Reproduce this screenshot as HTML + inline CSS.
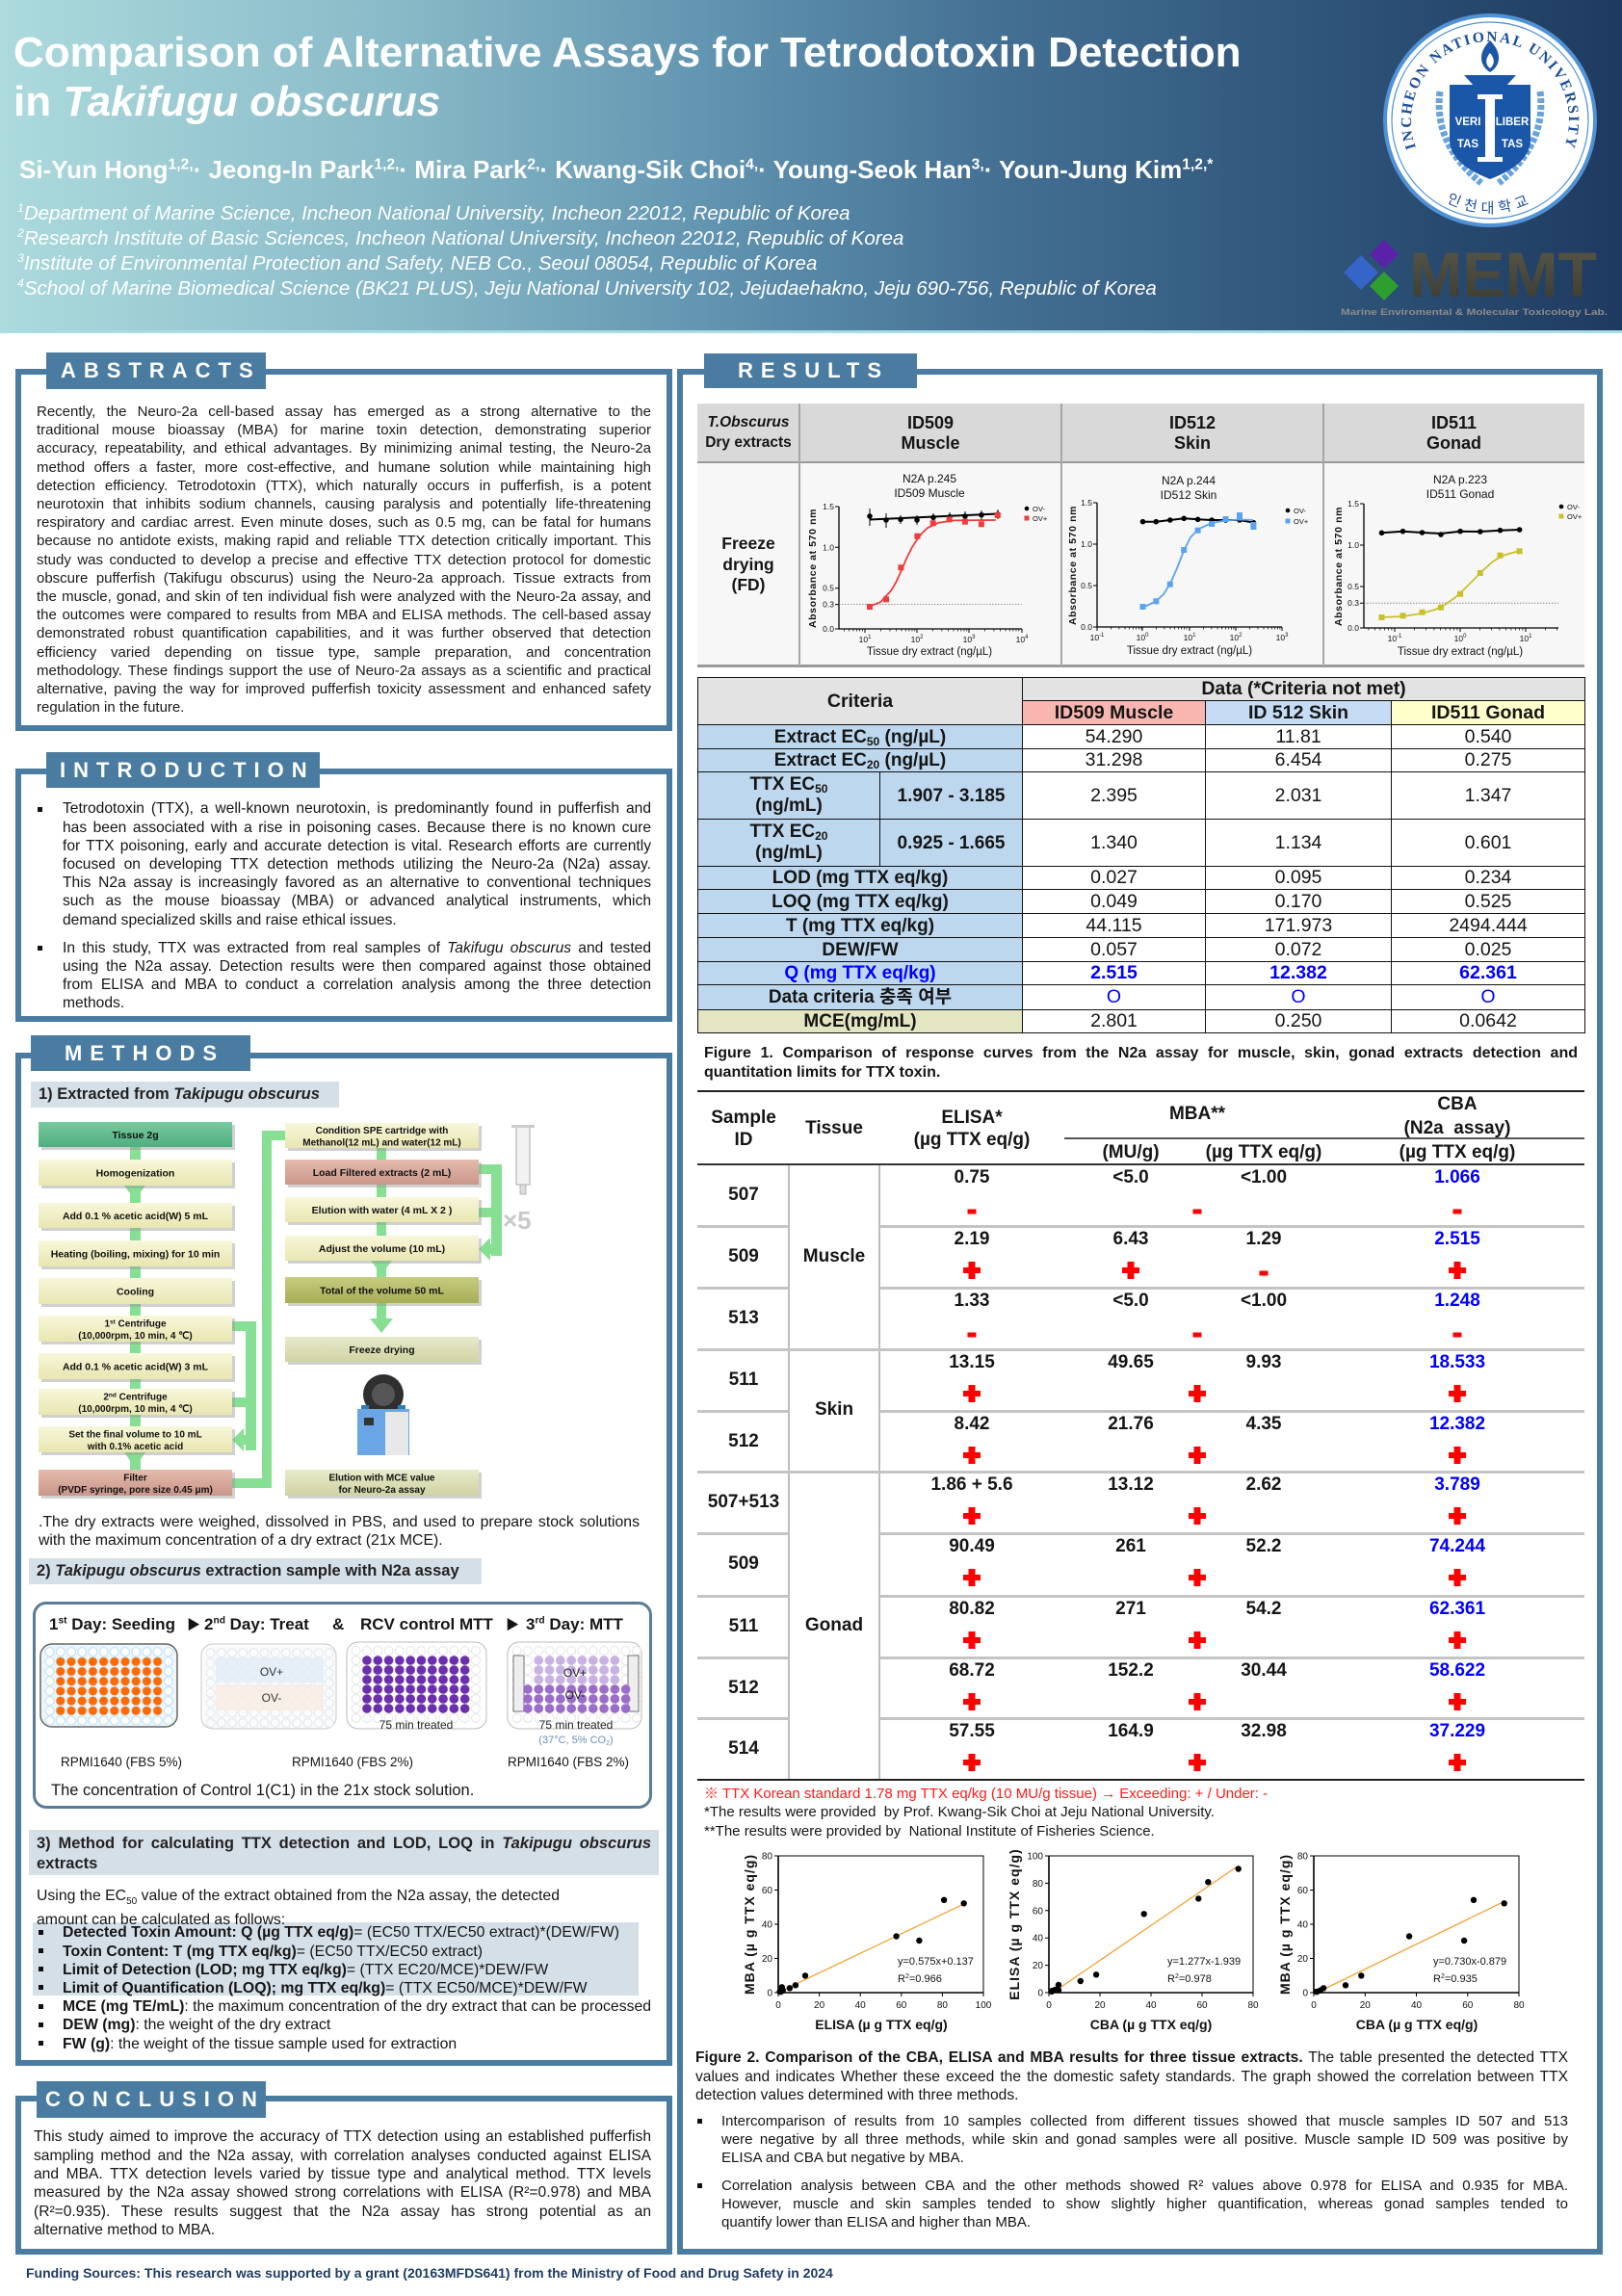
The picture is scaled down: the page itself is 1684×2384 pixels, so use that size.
<!DOCTYPE html>
<html style="width:1684px;height:2384px;overflow:hidden"><head><meta charset="utf-8">
<style>
html,body{margin:0;width:1684px;height:2384px;overflow:hidden}
body{position:relative;background:#fff;font-family:"Liberation Sans","Noto Sans CJK KR",sans-serif;color:#151515}
.a{position:absolute}
.nw{white-space:nowrap}
.box{position:absolute;border:6px solid #4a7ba0;box-sizing:border-box;background:#fff}
.tab{position:absolute;background:#4a7ba0;color:#fff;font-weight:bold;font-size:22px;letter-spacing:8px;box-sizing:border-box;display:flex;align-items:center;white-space:nowrap}
.jl{text-align:justify;text-align-last:justify}
.band{position:absolute;background:#d5dfe8}
.sq{position:absolute;width:5px;height:5px;background:#111}
.ct td{border:1.5px solid #111;padding:0;text-align:center;font-size:19.5px;line-height:21px;overflow:hidden;white-space:nowrap}
.ct td.c{background:#bdd7ee;font-weight:bold;font-size:19px}
.ct td.g{background:#e3e3e3;font-weight:bold}
.ct sub{font-size:12px;vertical-align:-3px;line-height:0}
.v{position:absolute;width:160px;margin-left:-80px;text-align:center;font-size:19px;font-weight:bold;line-height:22px;white-space:nowrap}
.bl{color:#0000ff}
.rs{position:absolute;height:3px;background:#c4c4c4}
.hl{position:absolute;background:#222}
sup{font-size:0.6em;line-height:0}
</style></head><body>

<!-- HEADER -->
<div class="a" style="left:0;top:0;width:1684px;height:344px;background:linear-gradient(90deg,#acdadd 0%,#88b9c7 25%,#5f92af 45%,#436f92 62%,#30577c 80%,#1f3a60 100%)"></div>
<div class="a" style="left:0;top:343px;width:1684px;height:3px;background:#a9dde3"></div>
<div class="a nw" style="left:14px;top:29px;font-size:44px;line-height:51px;font-weight:bold;color:#fff">Comparison of Alternative Assays for Tetrodotoxin Detection<br>in <i>Takifugu obscurus</i></div>
<div class="a nw" style="left:20px;top:161px;font-size:26px;line-height:30px;font-weight:bold;color:#fff">Si-Yun Hong<sup>1,2,</sup>· Jeong-In Park<sup>1,2,</sup>· Mira Park<sup>2,</sup>· Kwang-Sik Choi<sup>4,</sup>· Young-Seok Han<sup>3,</sup>· Youn-Jung Kim<sup>1,2,*</sup></div>
<div class="a nw" style="left:18px;top:209px;font-size:20.5px;line-height:26px;font-style:italic;color:#fff"><sup>1</sup>Department of Marine Science, Incheon National University, Incheon 22012, Republic of Korea<br><sup>2</sup>Research Institute of Basic Sciences, Incheon National University, Incheon 22012, Republic of Korea<br><sup>3</sup>Institute of Environmental Protection and Safety, NEB Co., Seoul 08054, Republic of Korea<br><sup>4</sup>School of Marine Biomedical Science (BK21 PLUS), Jeju National University 102, Jejudaehakno, Jeju 690-756, Republic of Korea</div>

<!-- LEFT COLUMN BOXES -->
<div class="box" style="left:16px;top:383px;width:682px;height:376px"></div>
<div class="tab" style="left:48px;top:366px;width:228px;height:38px;padding-left:15px">ABSTRACTS</div>
<div class="a" style="left:38px;top:418px;width:638px;font-size:15px;line-height:19.2px;color:#1a1a1a">
<div class="jl">Recently, the Neuro-2a cell-based assay has emerged as a strong alternative to the</div>
<div class="jl">traditional mouse bioassay (MBA) for marine toxin detection, demonstrating superior</div>
<div class="jl">accuracy, repeatability, and ethical advantages. By minimizing animal testing, the Neuro-2a</div>
<div class="jl">method offers a faster, more cost-effective, and humane solution while maintaining high</div>
<div class="jl">detection efficiency. Tetrodotoxin (TTX), which naturally occurs in pufferfish, is a potent</div>
<div class="jl">neurotoxin that inhibits sodium channels, causing paralysis and potentially life-threatening</div>
<div class="jl">respiratory and cardiac arrest. Even minute doses, such as 0.5 mg, can be fatal for humans</div>
<div class="jl">because no antidote exists, making rapid and reliable TTX detection critically important. This</div>
<div class="jl">study was conducted to develop a precise and effective TTX detection protocol for domestic</div>
<div class="jl">obscure pufferfish (Takifugu obscurus) using the Neuro-2a approach. Tissue extracts from</div>
<div class="jl">the muscle, gonad, and skin of ten individual fish were analyzed with the Neuro-2a assay, and</div>
<div class="jl">the outcomes were compared to results from MBA and ELISA methods. The cell-based assay</div>
<div class="jl">demonstrated robust quantification capabilities, and it was further observed that detection</div>
<div class="jl">efficiency varied depending on tissue type, sample preparation, and concentration</div>
<div class="jl">methodology. These findings support the use of Neuro-2a assays as a scientific and practical</div>
<div class="jl">alternative, paving the way for improved pufferfish toxicity assessment and enhanced safety</div>
<div>regulation in the future.</div>
</div>

<div class="box" style="left:16px;top:798px;width:682px;height:263px"></div>
<div class="tab" style="left:48px;top:781px;width:284px;height:37px;padding-left:14px">INTRODUCTION</div>
<div class="sq" style="left:39px;top:838px"></div>
<div class="sq" style="left:39px;top:982px"></div>
<div class="a" style="left:65px;top:830.4px;width:611px;font-size:15.6px;line-height:19.2px">
<div class="jl">Tetrodotoxin (TTX), a well-known neurotoxin, is predominantly found in pufferfish and</div>
<div class="jl">has been associated with a rise in poisoning cases. Because there is no known cure</div>
<div class="jl">for TTX poisoning, early and accurate detection is vital. Research efforts are currently</div>
<div class="jl">focused on developing TTX detection methods utilizing the Neuro-2a (N2a) assay.</div>
<div class="jl">This N2a assay is increasingly favored as an alternative to conventional techniques</div>
<div class="jl">such as the mouse bioassay (MBA) or advanced analytical instruments, which</div>
<div>demand specialized skills and raise ethical issues.</div>
</div>
<div class="a" style="left:65px;top:974.8px;width:611px;font-size:15.6px;line-height:19.2px">
<div class="jl">In this study, TTX was extracted from real samples of <i>Takifugu obscurus</i> and tested</div>
<div class="jl">using the N2a assay. Detection results were then compared against those obtained</div>
<div class="jl">from ELISA and MBA to conduct a correlation analysis among the three detection</div>
<div>methods.</div>
</div>

<div class="box" style="left:16px;top:1093px;width:682px;height:1052px"></div>
<div class="tab" style="left:32px;top:1075px;width:228px;height:37px;padding-left:35px">METHODS</div>
<div class="band" style="left:32px;top:1123px;width:320px;height:27px"></div>
<div class="a nw" style="left:40px;top:1125px;font-size:16.5px;line-height:23px;font-weight:bold;color:#222">1) Extracted from <i>Takipugu obscurus</i></div>
<div class="a" style="left:40px;top:1570.5px;width:624px;font-size:15.8px;line-height:19px">
<div class="jl">.The dry extracts were weighed, dissolved in PBS, and used to prepare stock solutions</div>
<div>with the maximum concentration of a dry extract (21x MCE).</div>
</div>
<div class="band" style="left:30px;top:1618px;width:470px;height:27px"></div>
<div class="a nw" style="left:38px;top:1620px;font-size:16.5px;line-height:23px;font-weight:bold;color:#222">2) <i>Takipugu obscurus</i> extraction sample with N2a assay</div>
<div class="a" style="left:34px;top:1663px;width:643px;height:215px;border:3px solid #587c98;border-radius:14px;box-sizing:border-box"></div>
<div class="a nw" style="left:51px;top:1676px;font-size:17px;line-height:22px;font-weight:bold">1<sup>st</sup> Day: Seeding</div>
<div class="a nw" style="left:194px;top:1677px;font-size:14px;line-height:20px">▶</div>
<div class="a nw" style="left:212px;top:1676px;font-size:17px;line-height:22px;font-weight:bold">2<sup>nd</sup> Day: Treat</div>
<div class="a nw" style="left:345px;top:1676px;font-size:17px;line-height:22px;font-weight:bold">&amp;</div>
<div class="a nw" style="left:374px;top:1676px;font-size:17px;line-height:22px;font-weight:bold">RCV control MTT</div>
<div class="a nw" style="left:525px;top:1677px;font-size:14px;line-height:20px">▶</div>
<div class="a nw" style="left:546px;top:1676px;font-size:17px;line-height:22px;font-weight:bold">3<sup>rd</sup> Day: MTT</div>
<div class="a nw" style="left:63px;top:1821px;font-size:13.5px;line-height:18px">RPMI1640 (FBS 5%)</div>
<div class="a nw" style="left:303px;top:1821px;font-size:13.5px;line-height:18px">RPMI1640 (FBS 2%)</div>
<div class="a nw" style="left:527px;top:1821px;font-size:13.5px;line-height:18px">RPMI1640 (FBS 2%)</div>
<div class="a nw" style="left:53px;top:1849px;font-size:16.5px;line-height:20px">The concentration of Control 1(C1) in the 21x stock solution.</div>

<div class="band" style="left:30px;top:1900px;width:654px;height:47px"></div>
<div class="a" style="left:38px;top:1903.5px;width:638px;font-size:16.5px;line-height:21px;font-weight:bold;color:#222">
<div class="jl">3) Method for calculating TTX detection and LOD, LOQ in <i>Takipugu obscurus</i></div>
<div>extracts</div>
</div>
<div class="band" style="left:34px;top:1996px;width:629px;height:76px"></div>
<div class="a nw" style="left:38px;top:1958.5px;font-size:15.8px;line-height:19px">Using the EC<sub style="font-size:10px">50</sub> value of the extract obtained from the N2a assay, the detected<br>amount can be calculated as follows:</div>
<div class="sq" style="left:40px;top:2004px"></div>
<div class="sq" style="left:40px;top:2023px"></div>
<div class="sq" style="left:40px;top:2042px"></div>
<div class="sq" style="left:40px;top:2061px"></div>
<div class="sq" style="left:40px;top:2081px"></div>
<div class="sq" style="left:40px;top:2100px"></div>
<div class="sq" style="left:40px;top:2119px"></div>
<div class="a nw" style="left:65px;top:1997.4px;font-size:15.8px;line-height:19.2px">
<div><b>Detected Toxin Amount: Q (µg TTX eq/g)</b>= (EC50 TTX/EC50 extract)*(DEW/FW)</div>
<div><b>Toxin Content: T (mg TTX eq/kg)</b>= (EC50 TTX/EC50 extract)</div>
<div><b>Limit of Detection (LOD; mg TTX eq/kg)</b>= (TTX EC20/MCE)*DEW/FW</div>
<div><b>Limit of Quantification (LOQ); mg TTX eq/kg)</b>= (TTX EC50/MCE)*DEW/FW</div>
<div><b>MCE (mg TE/mL)</b>: the maximum concentration of the dry extract that can be processed</div>
<div><b>DEW (mg)</b>: the weight of the dry extract</div>
<div><b>FW (g)</b>: the weight of the tissue sample used for extraction</div>
</div>

<div class="box" style="left:16px;top:2176px;width:682px;height:165px"></div>
<div class="tab" style="left:38px;top:2161px;width:238px;height:38px;padding-left:9px">CONCLUSION</div>
<div class="a" style="left:35px;top:2209.4px;width:641px;font-size:15.6px;line-height:19.3px">
<div class="jl">This study aimed to improve the accuracy of TTX detection using an established pufferfish</div>
<div class="jl">sampling method and the N2a assay, with correlation analyses conducted against ELISA</div>
<div class="jl">and MBA. TTX detection levels varied by tissue type and analytical method. TTX levels</div>
<div class="jl">measured by the N2a assay showed strong correlations with ELISA (R²=0.978) and MBA</div>
<div class="jl">(R²=0.935). These results suggest that the N2a assay has strong potential as an</div>
<div>alternative method to MBA.</div>
</div>
<div class="a nw" style="left:27px;top:2351px;font-size:14px;line-height:18px;font-weight:bold;color:#1f3c64">Funding Sources: This research was supported by a grant (20163MFDS641) from the Ministry of Food and Drug Safety in 2024</div>

<!-- RESULTS -->
<div class="box" style="left:703px;top:383px;width:961px;height:1958px"></div>
<div class="tab" style="left:731px;top:367px;width:221px;height:36px;padding-left:35px">RESULTS</div>

<div class="a" style="left:724px;top:419px;width:921px;height:61px;background:#d9d9d9"></div>
<div class="a" style="left:724px;top:480px;width:921px;height:212px;background:#f7f7f7"></div>
<div class="a" style="left:724px;top:479px;width:921px;height:2px;background:#9a9a9a"></div>
<div class="a" style="left:724px;top:690px;width:921px;height:3px;background:#9a9a9a"></div>
<div class="a" style="left:829px;top:419px;width:2px;height:273px;background:#a6a6a6"></div>
<div class="a" style="left:1101px;top:419px;width:2px;height:273px;background:#a6a6a6"></div>
<div class="a" style="left:1373px;top:419px;width:2px;height:273px;background:#a6a6a6"></div>
<div class="a nw" style="left:724px;top:429px;width:106px;text-align:center;font-size:15.5px;line-height:20.5px;font-weight:bold"><i>T.Obscurus</i><br>Dry extracts</div>
<div class="a nw" style="left:830px;top:429px;width:272px;text-align:center;font-size:18px;line-height:21px;font-weight:bold">ID509<br>Muscle</div>
<div class="a nw" style="left:1102px;top:429px;width:272px;text-align:center;font-size:18px;line-height:21px;font-weight:bold">ID512<br>Skin</div>
<div class="a nw" style="left:1374px;top:429px;width:271px;text-align:center;font-size:18px;line-height:21px;font-weight:bold">ID511<br>Gonad</div>
<div class="a nw" style="left:724px;top:554px;width:106px;text-align:center;font-size:17.5px;line-height:21.5px;font-weight:bold">Freeze<br>drying<br>(FD)</div>

<table class="ct" style="position:absolute;left:724px;top:703px;width:921px;border-collapse:collapse;table-layout:fixed">
<colgroup><col style="width:189px"><col style="width:148px"><col style="width:190px"><col style="width:193px"><col style="width:201px"></colgroup>
<tr style="height:24px"><td colspan="2" rowspan="2" class="g">Criteria</td><td colspan="3" class="g">Data (*Criteria not met)</td></tr>
<tr style="height:25px"><td style="background:#f9b6b1;font-weight:bold">ID509 Muscle</td><td style="background:#c6dcf4;font-weight:bold">ID 512 Skin</td><td style="background:#ffffcc;font-weight:bold">ID511 Gonad</td></tr>
<tr style="height:25px"><td colspan="2" class="c">Extract EC<sub>50</sub> (ng/µL)</td><td>54.290</td><td>11.81</td><td>0.540</td></tr>
<tr style="height:24px"><td colspan="2" class="c">Extract EC<sub>20</sub> (ng/µL)</td><td>31.298</td><td>6.454</td><td>0.275</td></tr>
<tr style="height:49px"><td class="c" style="line-height:22px">TTX EC<sub>50</sub><br>(ng/mL)</td><td class="c">1.907 - 3.185</td><td>2.395</td><td>2.031</td><td>1.347</td></tr>
<tr style="height:49px"><td class="c" style="line-height:22px">TTX EC<sub>20</sub><br>(ng/mL)</td><td class="c">0.925 - 1.665</td><td>1.340</td><td>1.134</td><td>0.601</td></tr>
<tr style="height:24px"><td colspan="2" class="c">LOD (mg TTX eq/kg)</td><td>0.027</td><td>0.095</td><td>0.234</td></tr>
<tr style="height:25px"><td colspan="2" class="c">LOQ (mg TTX eq/kg)</td><td>0.049</td><td>0.170</td><td>0.525</td></tr>
<tr style="height:25px"><td colspan="2" class="c">T (mg TTX eq/kg)</td><td>44.115</td><td>171.973</td><td>2494.444</td></tr>
<tr style="height:25px"><td colspan="2" class="c">DEW/FW</td><td>0.057</td><td>0.072</td><td>0.025</td></tr>
<tr style="height:24px"><td colspan="2" class="c" style="color:#0000ff">Q (mg TTX eq/kg)</td><td class="bl" style="font-weight:bold">2.515</td><td class="bl" style="font-weight:bold">12.382</td><td class="bl" style="font-weight:bold">62.361</td></tr>
<tr style="height:26px"><td colspan="2" class="c">Data criteria 충족 여부</td><td class="bl">O</td><td class="bl">O</td><td class="bl">O</td></tr>
<tr style="height:24px"><td colspan="2" class="c" style="background:#e3e6c0">MCE(mg/mL)</td><td>2.801</td><td>0.250</td><td>0.0642</td></tr>
</table>

<div class="a" style="left:731px;top:1084px;width:907px;font-size:16px;line-height:19.5px;font-weight:bold">
<div class="jl">Figure 1. Comparison of response curves from the N2a assay for muscle, skin, gonad extracts detection and</div>
<div>quantitation limits for TTX toxin.</div>
</div>

<!-- TABLE 2 -->
<div class="hl" style="left:724px;top:1132px;width:921px;height:2px"></div>
<div class="hl" style="left:1105px;top:1181px;width:540px;height:1.5px;background:#555"></div>
<div class="hl" style="left:724px;top:1208px;width:921px;height:2px;background:#333"></div>
<div class="hl" style="left:724px;top:1847px;width:921px;height:2px"></div>
<div class="a" style="left:818px;top:1210px;width:2px;height:637px;background:#bdbdbd"></div>
<div class="a" style="left:912px;top:1210px;width:2px;height:637px;background:#bdbdbd"></div>
<div class="rs" style="left:724px;top:1272px;width:95px"></div><div class="rs" style="left:913px;top:1272px;width:732px"></div>
<div class="rs" style="left:724px;top:1336px;width:95px"></div><div class="rs" style="left:913px;top:1336px;width:732px"></div>
<div class="rs" style="left:724px;top:1400px;width:921px"></div>
<div class="rs" style="left:724px;top:1464px;width:95px"></div><div class="rs" style="left:913px;top:1464px;width:732px"></div>
<div class="rs" style="left:724px;top:1527px;width:921px"></div>
<div class="rs" style="left:724px;top:1591px;width:95px"></div><div class="rs" style="left:913px;top:1591px;width:732px"></div>
<div class="rs" style="left:724px;top:1656px;width:95px"></div><div class="rs" style="left:913px;top:1656px;width:732px"></div>
<div class="rs" style="left:724px;top:1720px;width:95px"></div><div class="rs" style="left:913px;top:1720px;width:732px"></div>
<div class="rs" style="left:724px;top:1783px;width:95px"></div><div class="rs" style="left:913px;top:1783px;width:732px"></div>

<div class="v" style="left:772px;top:1149px;line-height:23px">Sample<br>ID</div>
<div class="v" style="left:866px;top:1161px">Tissue</div>
<div class="v" style="left:1009px;top:1149px;line-height:23px">ELISA*<br>(µg TTX eq/g)</div>
<div class="v" style="left:1243px;top:1146px">MBA**</div>
<div class="v" style="left:1513px;top:1134px;line-height:25px">CBA<br>(N2a&nbsp; assay)</div>
<div class="v" style="left:1174px;top:1186px">(MU/g)</div>
<div class="v" style="left:1312px;top:1186px">(µg TTX eq/g)</div>
<div class="v" style="left:1513px;top:1186px">(µg TTX eq/g)</div>

<div class="v" style="left:866px;top:1294px">Muscle</div>
<div class="v" style="left:866px;top:1453px">Skin</div>
<div class="v" style="left:866px;top:1677px">Gonad</div>

<div class="v" style="left:772px;top:1230px">507</div>
<div class="v" style="left:772px;top:1294px">509</div>
<div class="v" style="left:772px;top:1358px">513</div>
<div class="v" style="left:772px;top:1422px">511</div>
<div class="v" style="left:772px;top:1486px">512</div>
<div class="v" style="left:772px;top:1549px">507+513</div>
<div class="v" style="left:772px;top:1613px">509</div>
<div class="v" style="left:772px;top:1678px">511</div>
<div class="v" style="left:772px;top:1742px">512</div>
<div class="v" style="left:772px;top:1805px">514</div>

<div class="v" style="left:1009px;top:1212px">0.75</div><div class="v" style="left:1174px;top:1212px">&lt;5.0</div><div class="v" style="left:1312px;top:1212px">&lt;1.00</div><div class="v bl" style="left:1513px;top:1212px">1.066</div>
<div class="v" style="left:1009px;top:1276px">2.19</div><div class="v" style="left:1174px;top:1276px">6.43</div><div class="v" style="left:1312px;top:1276px">1.29</div><div class="v bl" style="left:1513px;top:1276px">2.515</div>
<div class="v" style="left:1009px;top:1340px">1.33</div><div class="v" style="left:1174px;top:1340px">&lt;5.0</div><div class="v" style="left:1312px;top:1340px">&lt;1.00</div><div class="v bl" style="left:1513px;top:1340px">1.248</div>
<div class="v" style="left:1009px;top:1404px">13.15</div><div class="v" style="left:1174px;top:1404px">49.65</div><div class="v" style="left:1312px;top:1404px">9.93</div><div class="v bl" style="left:1513px;top:1404px">18.533</div>
<div class="v" style="left:1009px;top:1468px">8.42</div><div class="v" style="left:1174px;top:1468px">21.76</div><div class="v" style="left:1312px;top:1468px">4.35</div><div class="v bl" style="left:1513px;top:1468px">12.382</div>
<div class="v" style="left:1009px;top:1531px">1.86 + 5.6</div><div class="v" style="left:1174px;top:1531px">13.12</div><div class="v" style="left:1312px;top:1531px">2.62</div><div class="v bl" style="left:1513px;top:1531px">3.789</div>
<div class="v" style="left:1009px;top:1595px">90.49</div><div class="v" style="left:1174px;top:1595px">261</div><div class="v" style="left:1312px;top:1595px">52.2</div><div class="v bl" style="left:1513px;top:1595px">74.244</div>
<div class="v" style="left:1009px;top:1660px">80.82</div><div class="v" style="left:1174px;top:1660px">271</div><div class="v" style="left:1312px;top:1660px">54.2</div><div class="v bl" style="left:1513px;top:1660px">62.361</div>
<div class="v" style="left:1009px;top:1724px">68.72</div><div class="v" style="left:1174px;top:1724px">152.2</div><div class="v" style="left:1312px;top:1724px">30.44</div><div class="v bl" style="left:1513px;top:1724px">58.622</div>
<div class="v" style="left:1009px;top:1787px">57.55</div><div class="v" style="left:1174px;top:1787px">164.9</div><div class="v" style="left:1312px;top:1787px">32.98</div><div class="v bl" style="left:1513px;top:1787px">37.229</div>

<div class="a nw" style="left:731px;top:1853px;font-size:15px;line-height:20px;color:#ff1a1a">※ TTX Korean standard 1.78 mg TTX eq/kg (10 MU/g tissue) → Exceeding: + / Under: -</div>
<div class="a nw" style="left:731px;top:1872px;font-size:15px;line-height:20px">*The results were provided&nbsp; by Prof. Kwang-Sik Choi at Jeju National University.</div>
<div class="a nw" style="left:731px;top:1892px;font-size:15px;line-height:20px">**The results were provided by&nbsp; National Institute of Fisheries Science.</div>

<div class="a" style="left:722px;top:2127px;width:906px;font-size:15.6px;line-height:19.5px">
<div class="jl"><b>Figure 2. Comparison of the CBA, ELISA and MBA results for three tissue extracts.</b> The table presented the detected TTX</div>
<div class="jl">values and indicates Whether these exceed the the domestic safety standards. The graph showed the correlation between TTX</div>
<div>detection values determined with three methods.</div>
</div>
<div class="sq" style="left:724px;top:2200px"></div>
<div class="sq" style="left:724px;top:2267px"></div>
<div class="a" style="left:749px;top:2192.5px;width:879px;font-size:15px;line-height:19px">
<div class="jl">Intercomparison of results from 10 samples collected from different tissues showed that muscle samples ID 507 and 513</div>
<div class="jl">were negative by all three methods, while skin and gonad samples were all positive. Muscle sample ID 509 was positive by</div>
<div>ELISA and CBA but negative by MBA.</div>
</div>
<div class="a" style="left:749px;top:2259.5px;width:879px;font-size:15px;line-height:19px">
<div class="jl">Correlation analysis between CBA and the other methods showed R² values above 0.978 for ELISA and 0.935 for MBA.</div>
<div class="jl">However, muscle and skin samples tended to show slightly higher quantification, whereas gonad samples tended to</div>
<div>quantify lower than ELISA and higher than MBA.</div>
</div>

<!-- GRAPHICS OVERLAY -->
<svg class="a" style="left:0;top:0" width="1684" height="2384" viewBox="0 0 1684 2384" font-family="Liberation Sans, sans-serif">
<defs>
<linearGradient id="gY" x1="0" y1="0" x2="0" y2="1"><stop offset="0" stop-color="#f8f7da"/><stop offset="1" stop-color="#e8e6b0"/></linearGradient>
<linearGradient id="gG" x1="0" y1="0" x2="0" y2="1"><stop offset="0" stop-color="#78ca9f"/><stop offset="1" stop-color="#4fae7f"/></linearGradient>
<linearGradient id="gS" x1="0" y1="0" x2="0" y2="1"><stop offset="0" stop-color="#e4bbad"/><stop offset="1" stop-color="#c9968a"/></linearGradient>
<linearGradient id="gO" x1="0" y1="0" x2="0" y2="1"><stop offset="0" stop-color="#c6cc80"/><stop offset="1" stop-color="#a6ad55"/></linearGradient>
<linearGradient id="gK" x1="0" y1="0" x2="0" y2="1"><stop offset="0" stop-color="#e8eacb"/><stop offset="1" stop-color="#d0d3a2"/></linearGradient>
<linearGradient id="gM" x1="0" y1="0" x2="0" y2="1"><stop offset="0" stop-color="#5a5848"/><stop offset="1" stop-color="#3a3a30"/></linearGradient>
<pattern id="w1" x="46" y="1710" width="11.2" height="10.2" patternUnits="userSpaceOnUse"><circle cx="5.6" cy="5.1" r="4.5" fill="#fff" stroke="#b9def2" stroke-width="1"/></pattern>
<pattern id="o1" x="46" y="1710" width="11.2" height="10.2" patternUnits="userSpaceOnUse"><circle cx="5.6" cy="5.1" r="4.4" fill="#ff6a00"/></pattern>
<pattern id="w2" x="213" y="1711" width="11.2" height="10.4" patternUnits="userSpaceOnUse"><circle cx="5.6" cy="5.2" r="4.5" fill="none" stroke="#e2e5ea" stroke-width="1"/></pattern>
<pattern id="w3" x="364" y="1709" width="11.3" height="10" patternUnits="userSpaceOnUse"><circle cx="5.65" cy="5" r="4.5" fill="none" stroke="#e4e4e4" stroke-width="1"/></pattern>
<pattern id="p3" x="364" y="1709" width="11.3" height="10" patternUnits="userSpaceOnUse"><circle cx="5.65" cy="5" r="4.8" fill="#6b2fae"/></pattern>
<pattern id="w4" x="531" y="1709" width="11.3" height="10" patternUnits="userSpaceOnUse"><circle cx="5.65" cy="5" r="4.5" fill="none" stroke="#e4e4e4" stroke-width="1"/></pattern>
<pattern id="p4a" x="531" y="1709" width="11.3" height="10" patternUnits="userSpaceOnUse"><circle cx="5.65" cy="5" r="4.8" fill="#c8b2e3"/></pattern>
<pattern id="p4b" x="531" y="1709" width="11.3" height="10" patternUnits="userSpaceOnUse"><circle cx="5.65" cy="5" r="4.8" fill="#9b6cc9"/></pattern>
<g id="pl" fill="#ff0000"><rect x="-9" y="-3" width="18" height="6"/><rect x="-3.5" y="-9" width="7" height="18"/></g>
<rect id="mn" x="-4.5" y="-2.5" width="9" height="5" fill="#ff0000"/>
</defs>

<!-- University logo -->
<circle cx="1547" cy="125" r="109" fill="#fff" stroke="#4f92d6" stroke-width="4"/>
<circle cx="1547" cy="125" r="102" fill="none" stroke="#4f92d6" stroke-width="1.2"/>
<path id="ringTop" d="M1469.9,153 A82,82 0 1 1 1624.1,153" fill="none"/>
<text font-family="Liberation Serif, serif" font-weight="bold" font-size="15.5" fill="#1a4f9c" letter-spacing="2"><textPath href="#ringTop" startOffset="50%" text-anchor="middle">INCHEON NATIONAL UNIVERSITY</textPath></text>
<path id="ringBot" d="M1485.3,198.5 A96,96 0 0 0 1608.7,198.5" fill="none"/>
<text font-family="Noto Sans CJK KR, sans-serif" font-size="15" fill="#1a4f9c" letter-spacing="5"><textPath href="#ringBot" startOffset="50%" text-anchor="middle">인천대학교</textPath></text>
<path d="M1495,95 Q1488,150 1538,190" stroke="#6aa3dc" stroke-width="7" fill="none" stroke-dasharray="5 2"/>
<path d="M1599,95 Q1606,150 1556,190" stroke="#6aa3dc" stroke-width="7" fill="none" stroke-dasharray="5 2"/>
<path d="M1505,88 H1589 V145 Q1589,170 1547,186 Q1505,170 1505,145 Z" fill="#1b57a8"/>
<path d="M1520,78 H1574 L1563,90 H1531 Z" fill="#1b57a8"/>
<path d="M1547,42 C1533,56 1537,69 1547,75 C1557,69 1561,56 1547,42 Z" fill="#1b57a8"/>
<path d="M1547,55 C1541,62 1543,68 1547,71 C1551,68 1553,62 1547,55 Z" fill="#fff"/>
<rect x="1542" y="100" width="10" height="66" fill="#fff"/><rect x="1534" y="98" width="26" height="5" fill="#fff"/><rect x="1534" y="163" width="26" height="5" fill="#fff"/>
<g fill="#fff" font-size="11.5" font-weight="bold" text-anchor="middle"><text x="1524" y="130">VERI</text><text x="1570" y="130">LIBER</text><text x="1524" y="153">TAS</text><text x="1570" y="153">TAS</text></g>

<!-- MEMT logo -->
<polygon points="1413,265 1431,283 1413,301 1395,283" fill="#3565c8"/>
<polygon points="1437,249 1452,264 1437,279 1422,264" fill="#5a22a8"/>
<polygon points="1437,282 1452,297 1437,312 1422,297" fill="#2e9e2e"/>
<text x="1463" y="308" font-size="66" font-weight="bold" fill="url(#gM)" textLength="195" lengthAdjust="spacingAndGlyphs">MEMT</text>
<text x="1392" y="327" font-size="9.5" font-weight="bold" fill="#8c8c8c" textLength="277" lengthAdjust="spacingAndGlyphs">Marine Enviromental &amp; Molecular Toxicology Lab.</text>

<!-- Flowchart connectors -->
<g fill="#86df92">
<rect x="135" y="1191" width="11" height="335"/>
<polygon points="129,1231 151,1231 140,1246"/>
<polygon points="129,1508 151,1508 140,1524"/>
<rect x="241" y="1372" width="25" height="10"/>
<rect x="255" y="1372" width="11" height="134"/>
<rect x="241" y="1451" width="25" height="10"/>
<rect x="250" y="1490" width="16" height="10"/>
<polygon points="241,1495 253,1483 253,1507"/>
<rect x="241" y="1535" width="41" height="10"/>
<rect x="272" y="1174" width="10" height="371"/>
<rect x="272" y="1174" width="24" height="10"/>
<rect x="391" y="1192" width="10" height="134"/>
<polygon points="385,1309 407,1309 396,1323"/>
<rect x="391" y="1353" width="10" height="18"/>
<polygon points="384,1369 408,1369 396,1384"/>
<rect x="497" y="1209" width="24" height="10"/>
<rect x="510" y="1209" width="11" height="95"/>
<rect x="497" y="1254" width="24" height="10"/>
<rect x="506" y="1292" width="15" height="10"/>
<polygon points="497,1297 509,1285 509,1309"/>
</g>

<!-- Flowchart boxes -->
<g font-size="10.5" font-weight="bold" fill="#111" text-anchor="middle">
<g fill="#999" opacity="0.45">
<rect x="43" y="1168" width="201" height="26"/><rect x="43" y="1207" width="201" height="27"/><rect x="43" y="1252" width="201" height="26"/><rect x="43" y="1291" width="201" height="27"/><rect x="43" y="1330" width="201" height="27"/><rect x="43" y="1369" width="201" height="27"/><rect x="43" y="1408" width="201" height="27"/><rect x="43" y="1445" width="201" height="27"/><rect x="43" y="1484" width="201" height="27"/><rect x="43" y="1529" width="201" height="27"/>
<rect x="299" y="1169" width="201" height="26"/><rect x="299" y="1207" width="201" height="26"/><rect x="299" y="1246" width="201" height="26"/><rect x="299" y="1286" width="201" height="26"/><rect x="299" y="1329" width="201" height="27"/><rect x="299" y="1391" width="201" height="26"/><rect x="299" y="1529" width="201" height="27"/>
</g>
<rect x="40" y="1165" width="201" height="26" fill="url(#gG)"/>
<rect x="40" y="1204" width="201" height="27" fill="url(#gY)"/>
<rect x="40" y="1249" width="201" height="26" fill="url(#gY)"/>
<rect x="40" y="1288" width="201" height="27" fill="url(#gY)"/>
<rect x="40" y="1327" width="201" height="27" fill="url(#gY)"/>
<rect x="40" y="1366" width="201" height="27" fill="url(#gY)"/>
<rect x="40" y="1405" width="201" height="27" fill="url(#gY)"/>
<rect x="40" y="1442" width="201" height="27" fill="url(#gY)"/>
<rect x="40" y="1481" width="201" height="27" fill="url(#gY)"/>
<rect x="40" y="1526" width="201" height="27" fill="url(#gS)"/>
<rect x="296" y="1166" width="201" height="26" fill="url(#gY)"/>
<rect x="296" y="1204" width="201" height="26" fill="url(#gS)"/>
<rect x="296" y="1243" width="201" height="26" fill="url(#gY)"/>
<rect x="296" y="1283" width="201" height="26" fill="url(#gY)"/>
<rect x="296" y="1326" width="201" height="27" fill="url(#gO)"/>
<rect x="296" y="1388" width="201" height="26" fill="url(#gK)"/>
<rect x="296" y="1526" width="201" height="27" fill="url(#gK)"/>
<text x="140.5" y="1182">Tissue 2g</text>
<text x="140.5" y="1221.5">Homogenization</text>
<text x="140.5" y="1266">Add 0.1 % acetic acid(W) 5 mL</text>
<text x="140.5" y="1305.5">Heating (boiling, mixing) for 10 min</text>
<text x="140.5" y="1344.5">Cooling</text>
<text x="140.5" y="1377.5" font-size="10">1<tspan font-size="6.5" dy="-3">st</tspan><tspan dy="3"> Centrifuge</tspan></text>
<text x="140.5" y="1390" font-size="10">(10,000rpm, 10 min, 4 ℃)</text>
<text x="140.5" y="1422.5">Add 0.1 % acetic acid(W) 3 mL</text>
<text x="140.5" y="1453.5" font-size="10">2<tspan font-size="6.5" dy="-3">nd</tspan><tspan dy="3"> Centrifuge</tspan></text>
<text x="140.5" y="1466" font-size="10">(10,000rpm, 10 min, 4 ℃)</text>
<text x="140.5" y="1492.5" font-size="10">Set the final volume to 10 mL</text>
<text x="140.5" y="1505" font-size="10">with 0.1% acetic acid</text>
<text x="140.5" y="1537.5" font-size="10">Filter</text>
<text x="140.5" y="1550" font-size="10">(PVDF syringe, pore size 0.45 μm)</text>
<text x="396.5" y="1177" font-size="10">Condition SPE cartridge with</text>
<text x="396.5" y="1189.5" font-size="10">Methanol(12 mL) and water(12 mL)</text>
<text x="396.5" y="1221">Load Filtered extracts (2 mL)</text>
<text x="396.5" y="1260">Elution with water (4 mL X 2 )</text>
<text x="396.5" y="1300">Adjust the volume (10 mL)</text>
<text x="396.5" y="1343.5">Total of the volume 50 mL</text>
<text x="396.5" y="1405">Freeze drying</text>
<text x="396.5" y="1537.5" font-size="10">Elution with MCE value</text>
<text x="396.5" y="1550" font-size="10">for Neuro-2a assay</text>
</g>
<!-- syringe & x5 -->
<rect x="536" y="1170" width="14" height="60" fill="#f2f2f2" stroke="#aaa" stroke-width="1"/>
<rect x="531" y="1168" width="24" height="3" fill="#ccc"/>
<rect x="540" y="1230" width="6" height="10" fill="#ddd" stroke="#aaa" stroke-width="0.8"/>
<text x="522" y="1276" font-size="26" font-weight="bold" fill="#c9c9c9">×5</text>
<!-- freeze dryer -->
<circle cx="398" cy="1448" r="21" fill="#2f2f2f"/>
<circle cx="398" cy="1448" r="12" fill="#555"/>
<rect x="375" y="1459" width="8" height="6" fill="#2a7fb8"/><rect x="413" y="1459" width="8" height="6" fill="#2a7fb8"/>
<rect x="371" y="1463" width="54" height="48" fill="#6aa6e6"/>
<rect x="400" y="1466" width="24" height="45" fill="#e8e8e8"/>
<rect x="378" y="1472" width="10" height="8" fill="#333"/>

<!-- Plates -->
<rect x="42" y="1707" width="142" height="86" rx="12" fill="#eef6fb" stroke="#666" stroke-width="1.5"/>
<rect x="45" y="1710" width="136" height="81" fill="url(#w1)"/>
<rect x="57.2" y="1720.2" width="112" height="61.2" fill="url(#o1)"/>
<rect x="209" y="1707" width="140" height="88" rx="12" fill="#fafbfc" stroke="#c8c8c8" stroke-width="1"/>
<rect x="213" y="1711" width="134" height="83" fill="url(#w2)"/>
<rect x="224" y="1721" width="112" height="26" fill="#e3ecf8" opacity="0.85"/>
<rect x="224" y="1749" width="112" height="27" fill="#f8ece4" opacity="0.85"/>
<text x="282" y="1740" font-size="12" text-anchor="middle" fill="#333">OV+</text>
<text x="282" y="1767" font-size="12" text-anchor="middle" fill="#333">OV-</text>
<rect x="360" y="1705" width="145" height="90" rx="12" fill="#fff" stroke="#bbb" stroke-width="1"/>
<rect x="364" y="1709" width="136" height="80" fill="url(#w3)"/>
<rect x="375.3" y="1719" width="113" height="60" fill="url(#p3)"/>
<text x="432" y="1795" font-size="12" text-anchor="middle" fill="#222">75 min treated</text>
<rect x="527" y="1705" width="139" height="90" rx="12" fill="#fff" stroke="#bbb" stroke-width="1"/>
<rect x="531" y="1709" width="135" height="80" fill="url(#w4)"/>
<rect x="533" y="1719" width="11" height="58" fill="#eee" stroke="#555" stroke-width="0.8"/>
<rect x="652" y="1719" width="11" height="58" fill="#eee" stroke="#555" stroke-width="0.8"/>
<rect x="553.6" y="1719" width="90.4" height="30" fill="url(#p4a)"/>
<rect x="542.3" y="1749" width="113" height="30" fill="url(#p4b)"/>
<text x="597" y="1741" font-size="12" text-anchor="middle" fill="#222">OV+</text>
<text x="597" y="1764" font-size="12" text-anchor="middle" fill="#222">OV-</text>
<text x="598" y="1795" font-size="12" text-anchor="middle" fill="#222">75 min treated</text>
<text x="598" y="1810" font-size="11" text-anchor="middle" fill="#6a90b8">(37°C, 5% CO<tspan font-size="7" dy="2">2</tspan><tspan dy="-2">)</tspan></text>

<!-- Chart 1 -->
<g font-size="8.5" fill="#111">
<text x="965" y="501" font-size="12" text-anchor="middle">N2A p.245</text>
<text x="965" y="516" font-size="12" text-anchor="middle">ID509 Muscle</text>
<path d="M871,526V653H1061" fill="none" stroke="#000" stroke-width="1.3"/>
<path d="M867,526H871M867,568.3H871M867,610.7H871M867,627.6H871M867,653H871M898,653v4M952,653v4M1006,653v4M1061,653v4" stroke="#000" stroke-width="1"/>
<path d="M876.4,653v2.5M881.7,653v2.5M886,653v2.5M889.6,653v2.5M892.7,653v2.5M895.5,653v2.5M914.3,653v2.5M923.9,653v2.5M930.7,653v2.5M936,653v2.5M940.3,653v2.5M943.9,653v2.5M947,653v2.5M949.8,653v2.5M968.3,653v2.5M977.9,653v2.5M984.7,653v2.5M990,653v2.5M994.3,653v2.5M997.9,653v2.5M1001,653v2.5M1003.8,653v2.5M1022.3,653v2.5M1031.9,653v2.5M1038.7,653v2.5M1044,653v2.5M1048.3,653v2.5M1051.9,653v2.5M1055,653v2.5M1057.8,653v2.5" stroke="#000" stroke-width="0.7"/>
<g text-anchor="end"><text x="866" y="529">1.5</text><text x="866" y="571.3">1.0</text><text x="866" y="613.7">0.5</text><text x="866" y="630.6">0.3</text><text x="866" y="656">0.0</text></g>
<g text-anchor="middle"><text x="898" y="667">10<tspan font-size="6" dy="-4">1</tspan></text><text x="952" y="667">10<tspan font-size="6" dy="-4">2</tspan></text><text x="1006" y="667">10<tspan font-size="6" dy="-4">3</tspan></text><text x="1061" y="667">10<tspan font-size="6" dy="-4">4</tspan></text></g>
<text x="965" y="680" font-size="11.5" text-anchor="middle">Tissue dry extract (ng/µL)</text>
<text transform="translate(847,590) rotate(-90)" font-size="10.5" font-weight="bold" text-anchor="middle" letter-spacing="0.6">Absorbance at 570 nm</text>
<path d="M871,627.6H1061" stroke="#777" stroke-width="0.8" stroke-dasharray="1.5 1.5"/>
<path d="M903,539.5L1036,533.5" stroke="#000" stroke-width="2"/>
<path d="M903,528V546M920,533V548M935,535V544M952,535V545M969,533V542M986,532V541M1002,531V541M1019,530V540M1036,529V539" stroke="#000" stroke-width="1"/>
<g fill="#000"><circle cx="903" cy="536" r="2.8"/><circle cx="920" cy="540" r="2.8"/><circle cx="935" cy="539.3" r="2.8"/><circle cx="952" cy="540" r="2.8"/><circle cx="969" cy="537.3" r="2.8"/><circle cx="986" cy="536.7" r="2.8"/><circle cx="1002" cy="536" r="2.8"/><circle cx="1019" cy="534.7" r="2.8"/><circle cx="1036" cy="534" r="2.8"/></g>
<polyline points="903.4,629.3 914.3,625.1 925.2,613.2 930.6,603.9 936,592 941.4,579.3 946.9,568.3 952.3,559.9 957.7,553.1 963.2,548 974,542.9 990.3,540.4 1033.8,540" fill="none" stroke="#f03c3c" stroke-width="1.8"/>
<g fill="#f03c3c"><rect x="900" y="627" width="6" height="6"/><rect x="917" y="619.3" width="6" height="6"/><rect x="932.4" y="586.3" width="6" height="6"/><rect x="949.4" y="553.7" width="6" height="6"/><rect x="965.7" y="540.3" width="6" height="6"/><rect x="982.6" y="536.3" width="6" height="6"/><rect x="998.9" y="538.7" width="6" height="6"/><rect x="1015.9" y="541.3" width="6" height="6"/><rect x="1032.8" y="532" width="6" height="6"/></g>
<circle cx="1066" cy="528" r="2.3" fill="#000"/><rect x="1063.5" y="535.5" width="5" height="5" fill="#f03c3c"/>
<text x="1072" y="531" font-size="7.5">OV-</text><text x="1072" y="541" font-size="7.5">OV+</text>
</g>

<!-- Chart 2 -->
<g font-size="8.5" fill="#111">
<text x="1234" y="503" font-size="12" text-anchor="middle">N2A p.244</text>
<text x="1234" y="518" font-size="12" text-anchor="middle">ID512 Skin</text>
<path d="M1139,522V651H1331" fill="none" stroke="#000" stroke-width="1.3"/>
<path d="M1135,522H1139M1135,565H1139M1135,608H1139M1135,651H1139M1139,651v4M1186,651v4M1235,651v4M1283,651v4M1331,651v4" stroke="#000" stroke-width="1"/>
<path d="M1153.5,651v2.5M1161.9,651v2.5M1168,651v2.5M1172.6,651v2.5M1176.4,651v2.5M1179.7,651v2.5M1182.4,651v2.5M1184.9,651v2.5M1200.5,651v2.5M1208.9,651v2.5M1215,651v2.5M1219.6,651v2.5M1223.4,651v2.5M1226.7,651v2.5M1229.4,651v2.5M1231.9,651v2.5M1249.5,651v2.5M1257.9,651v2.5M1264,651v2.5M1268.6,651v2.5M1272.4,651v2.5M1275.7,651v2.5M1278.4,651v2.5M1280.9,651v2.5M1297.5,651v2.5M1305.9,651v2.5M1312,651v2.5M1316.6,651v2.5M1320.4,651v2.5M1323.7,651v2.5M1326.4,651v2.5M1328.9,651v2.5" stroke="#000" stroke-width="0.7"/>
<g text-anchor="end"><text x="1134" y="525">1.5</text><text x="1134" y="568">1.0</text><text x="1134" y="611">0.5</text><text x="1134" y="654">0.0</text></g>
<g text-anchor="middle"><text x="1139" y="665">10<tspan font-size="6" dy="-4">-1</tspan></text><text x="1186" y="665">10<tspan font-size="6" dy="-4">0</tspan></text><text x="1235" y="665">10<tspan font-size="6" dy="-4">1</tspan></text><text x="1283" y="665">10<tspan font-size="6" dy="-4">2</tspan></text><text x="1331" y="665">10<tspan font-size="6" dy="-4">3</tspan></text></g>
<text x="1235" y="679" font-size="11.5" text-anchor="middle">Tissue dry extract (ng/µL)</text>
<text transform="translate(1117,587) rotate(-90)" font-size="10.5" font-weight="bold" text-anchor="middle" letter-spacing="0.6">Absorbance at 570 nm</text>
<polyline points="1186.5,541.7 1200.3,541.7 1214.8,540 1229.2,538.3 1243.6,539.3 1258.1,540 1272.5,540 1287,540 1301.4,542.7" fill="none" stroke="#000" stroke-width="2"/>
<g fill="#000"><circle cx="1186.5" cy="541.7" r="2.8"/><circle cx="1200.3" cy="541.7" r="2.8"/><circle cx="1214.8" cy="540" r="2.8"/><circle cx="1229.2" cy="538.3" r="2.8"/><circle cx="1243.6" cy="539.3" r="2.8"/><circle cx="1258.1" cy="540" r="2.8"/><circle cx="1272.5" cy="540" r="2.8"/><circle cx="1287" cy="540" r="2.8"/><circle cx="1301.4" cy="542.7" r="2.8"/></g>
<polyline points="1186,631 1200,624.5 1208,617 1215,606 1222,590 1229,572 1236,558 1244,549.5 1258,543 1272,540.5 1287,539.5 1301,540" fill="none" stroke="#5ba3f0" stroke-width="1.8"/>
<g fill="#5ba3f0"><rect x="1183.5" y="627" width="6" height="6"/><rect x="1197.3" y="621.3" width="6" height="6"/><rect x="1211.8" y="603.7" width="6" height="6"/><rect x="1226.2" y="568" width="6" height="6"/><rect x="1240.6" y="547.7" width="6" height="6"/><rect x="1255.1" y="541" width="6" height="6"/><rect x="1269.5" y="536" width="6" height="6"/><rect x="1284" y="532" width="6" height="8"/><rect x="1298.4" y="542" width="6" height="8"/></g>
<circle cx="1337" cy="530" r="2.3" fill="#000"/><rect x="1334.5" y="538.5" width="5" height="5" fill="#5ba3f0"/>
<text x="1343" y="533" font-size="7.5">OV-</text><text x="1343" y="544" font-size="7.5">OV+</text>
</g>

<!-- Chart 3 -->
<g font-size="8.5" fill="#111">
<text x="1516" y="502" font-size="12" text-anchor="middle">N2A p.223</text>
<text x="1516" y="517" font-size="12" text-anchor="middle">ID511 Gonad</text>
<path d="M1416,523V652H1618" fill="none" stroke="#000" stroke-width="1.3"/>
<path d="M1412,523H1416M1412,566H1416M1412,609H1416M1412,626.2H1416M1412,652H1416M1448,652v4M1516,652v4M1584,652v4" stroke="#000" stroke-width="1"/>
<path d="M1420.9,652v2.5M1427.5,652v2.5M1432.9,652v2.5M1437.5,652v2.5M1441.5,652v2.5M1444.9,652v2.5M1468.5,652v2.5M1480.4,652v2.5M1488.9,652v2.5M1495.5,652v2.5M1500.9,652v2.5M1505.5,652v2.5M1509.5,652v2.5M1512.9,652v2.5M1536.5,652v2.5M1548.4,652v2.5M1556.9,652v2.5M1563.5,652v2.5M1568.9,652v2.5M1573.5,652v2.5M1577.5,652v2.5M1580.9,652v2.5M1604.5,652v2.5M1616.4,652v2.5" stroke="#000" stroke-width="0.7"/>
<g text-anchor="end"><text x="1411" y="526">1.5</text><text x="1411" y="569">1.0</text><text x="1411" y="612">0.5</text><text x="1411" y="629.2">0.3</text><text x="1411" y="655">0.0</text></g>
<g text-anchor="middle"><text x="1448" y="666">10<tspan font-size="6" dy="-4">-1</tspan></text><text x="1516" y="666">10<tspan font-size="6" dy="-4">0</tspan></text><text x="1584" y="666">10<tspan font-size="6" dy="-4">1</tspan></text></g>
<text x="1516" y="680" font-size="11.5" text-anchor="middle">Tissue dry extract (ng/µL)</text>
<text transform="translate(1393,588) rotate(-90)" font-size="10.5" font-weight="bold" text-anchor="middle" letter-spacing="0.6">Absorbance at 570 nm</text>
<path d="M1416,626.2H1618" stroke="#777" stroke-width="0.8" stroke-dasharray="1.5 1.5"/>
<polyline points="1434.5,553.3 1456.5,551.7 1476.5,553 1496,554 1516.1,551.7 1536.8,552 1557.5,550.7 1577.6,550" fill="none" stroke="#000" stroke-width="2"/>
<g fill="#000"><circle cx="1434.5" cy="553.3" r="2.8"/><circle cx="1456.5" cy="551.7" r="2.8"/><circle cx="1476.5" cy="553" r="2.8"/><circle cx="1496" cy="555" r="2.8"/><circle cx="1516.1" cy="551.7" r="2.8"/><circle cx="1536.8" cy="552" r="2.8"/><circle cx="1557.5" cy="550.7" r="2.8"/><circle cx="1577.6" cy="550" r="2.8"/></g>
<polyline points="1434,641 1456,640 1476,637 1490,633 1500,628 1510,621 1520,612 1530,602 1540,592 1550,583 1560,577 1570,574 1578,572" fill="none" stroke="#c9c02a" stroke-width="1.8"/>
<g fill="#c9c02a"><rect x="1431.5" y="638" width="6" height="6"/><rect x="1453.5" y="636.3" width="6" height="6"/><rect x="1473.5" y="632.7" width="6" height="6"/><rect x="1493" y="627.7" width="6" height="6"/><rect x="1513.1" y="613.7" width="6" height="6"/><rect x="1533.8" y="592" width="6" height="6"/><rect x="1554.5" y="573.7" width="6" height="6"/><rect x="1574.6" y="569.3" width="6" height="6"/></g>
<circle cx="1621" cy="526" r="2.3" fill="#000"/><rect x="1618.5" y="533.5" width="5" height="5" fill="#c9c02a"/>
<text x="1627" y="529" font-size="7.5">OV-</text><text x="1627" y="539" font-size="7.5">OV+</text>
</g>

<!-- Table 2 signs -->
<use href="#mn" transform="translate(1009,1258)"/><use href="#mn" transform="translate(1243,1258)"/><use href="#mn" transform="translate(1513,1258)"/>
<use href="#pl" transform="translate(1009,1319)"/><use href="#pl" transform="translate(1174,1319)"/><use href="#mn" transform="translate(1312,1322)"/><use href="#pl" transform="translate(1513,1319)"/>
<use href="#mn" transform="translate(1009,1386)"/><use href="#mn" transform="translate(1243,1386)"/><use href="#mn" transform="translate(1513,1386)"/>
<use href="#pl" transform="translate(1009,1447)"/><use href="#pl" transform="translate(1243,1447)"/><use href="#pl" transform="translate(1513,1447)"/>
<use href="#pl" transform="translate(1009,1511)"/><use href="#pl" transform="translate(1243,1511)"/><use href="#pl" transform="translate(1513,1511)"/>
<use href="#pl" transform="translate(1009,1574)"/><use href="#pl" transform="translate(1243,1574)"/><use href="#pl" transform="translate(1513,1574)"/>
<use href="#pl" transform="translate(1009,1638)"/><use href="#pl" transform="translate(1243,1638)"/><use href="#pl" transform="translate(1513,1638)"/>
<use href="#pl" transform="translate(1009,1703)"/><use href="#pl" transform="translate(1243,1703)"/><use href="#pl" transform="translate(1513,1703)"/>
<use href="#pl" transform="translate(1009,1767)"/><use href="#pl" transform="translate(1243,1767)"/><use href="#pl" transform="translate(1513,1767)"/>
<use href="#pl" transform="translate(1009,1830)"/><use href="#pl" transform="translate(1243,1830)"/><use href="#pl" transform="translate(1513,1830)"/>

<!-- Scatter 1 -->
<g font-size="10" fill="#111">
<rect x="808" y="1927" width="213" height="142" fill="none" stroke="#000" stroke-width="1"/>
<path d="M808,1927V2069H1021" fill="none" stroke="#000" stroke-width="1.6"/>
<path d="M804,2069H808M804,2033.5H808M804,1998H808M804,1962.5H808M804,1927H808M808,2069v4M850.6,2069v4M893.2,2069v4M935.8,2069v4M978.4,2069v4M1021,2069v4" stroke="#000"/>
<g text-anchor="end"><text x="802" y="2072.5">0</text><text x="802" y="2037">20</text><text x="802" y="2001.5">40</text><text x="802" y="1966">60</text><text x="802" y="1930.5">80</text></g>
<g text-anchor="middle"><text x="808" y="2085">0</text><text x="850.6" y="2085">20</text><text x="893.2" y="2085">40</text><text x="935.8" y="2085">60</text><text x="978.4" y="2085">80</text><text x="1021" y="2085">100</text></g>
<text x="915" y="2107" font-size="14" font-weight="bold" text-anchor="middle">ELISA (µ g TTX eq/g)</text>
<text transform="translate(783,1998) rotate(-90)" font-size="14" font-weight="bold" text-anchor="middle" letter-spacing="1">MBA (µ g TTX eq/g)</text>
<path d="M808,2068.8L1000.7,1976.9" stroke="#f5a030" stroke-width="1.3"/>
<g fill="#000"><circle cx="809.6" cy="2068.1" r="3.2"/><circle cx="812.7" cy="2066.7" r="3.2"/><circle cx="810.8" cy="2068.1" r="3.2"/><circle cx="836" cy="2051.4" r="3.2"/><circle cx="825.9" cy="2061.3" r="3.2"/><circle cx="819.9" cy="2064.3" r="3.2"/><circle cx="811.8" cy="2063.3" r="3.2"/><circle cx="1000.7" cy="1976.3" r="3.2"/><circle cx="980.1" cy="1972.8" r="3.2"/><circle cx="954.4" cy="2015" r="3.2"/><circle cx="930.6" cy="2010.5" r="3.2"/></g>
<text x="932" y="2040" font-size="11">y=0.575x+0.137</text>
<text x="932" y="2058" font-size="11">R<tspan font-size="7" dy="-4">2</tspan><tspan dy="4">=0.966</tspan></text>
</g>
<!-- Scatter 2 -->
<g font-size="10" fill="#111">
<rect x="1089" y="1927" width="212" height="142" fill="none" stroke="#000" stroke-width="1"/>
<path d="M1089,1927V2069H1301" fill="none" stroke="#000" stroke-width="1.6"/>
<path d="M1085,2069H1089M1085,2040.6H1089M1085,2012.2H1089M1085,1983.8H1089M1085,1955.4H1089M1085,1927H1089M1089,2069v4M1142,2069v4M1195,2069v4M1248,2069v4M1301,2069v4" stroke="#000"/>
<g text-anchor="end"><text x="1083" y="2072.5">0</text><text x="1083" y="2044.1">20</text><text x="1083" y="2015.7">40</text><text x="1083" y="1987.3">60</text><text x="1083" y="1958.9">80</text><text x="1083" y="1930.5">100</text></g>
<g text-anchor="middle"><text x="1089" y="2085">0</text><text x="1142" y="2085">20</text><text x="1195" y="2085">40</text><text x="1248" y="2085">60</text><text x="1301" y="2085">80</text></g>
<text x="1195" y="2107" font-size="14" font-weight="bold" text-anchor="middle">CBA (µ g TTX eq/g)</text>
<text transform="translate(1058,1998) rotate(-90)" font-size="14" font-weight="bold" text-anchor="middle" letter-spacing="1">ELISA (µ g TTX eq/g)</text>
<path d="M1093,2069L1285.1,1937.6" stroke="#f5a030" stroke-width="1.3"/>
<g fill="#000"><circle cx="1091.8" cy="2067.9" r="3.2"/><circle cx="1095.7" cy="2065.9" r="3.2"/><circle cx="1092.3" cy="2067.1" r="3.2"/><circle cx="1138.1" cy="2050.3" r="3.2"/><circle cx="1121.8" cy="2057" r="3.2"/><circle cx="1099" cy="2061" r="3.2"/><circle cx="1099" cy="2066.4" r="3.2"/><circle cx="1285.7" cy="1940.5" r="3.2"/><circle cx="1254.3" cy="1954.2" r="3.2"/><circle cx="1244.3" cy="1971.4" r="3.2"/><circle cx="1187.7" cy="1987.3" r="3.2"/></g>
<text x="1212" y="2040" font-size="11">y=1.277x-1.939</text>
<text x="1212" y="2058" font-size="11">R<tspan font-size="7" dy="-4">2</tspan><tspan dy="4">=0.978</tspan></text>
</g>
<!-- Scatter 3 -->
<g font-size="10" fill="#111">
<rect x="1364" y="1927" width="213" height="142" fill="none" stroke="#000" stroke-width="1"/>
<path d="M1364,1927V2069H1577" fill="none" stroke="#000" stroke-width="1.6"/>
<path d="M1360,2069H1364M1360,2033.5H1364M1360,1998H1364M1360,1962.5H1364M1360,1927H1364M1364,2069v4M1417.3,2069v4M1470.5,2069v4M1523.8,2069v4M1577,2069v4" stroke="#000"/>
<g text-anchor="end"><text x="1358" y="2072.5">0</text><text x="1358" y="2037">20</text><text x="1358" y="2001.5">40</text><text x="1358" y="1966">60</text><text x="1358" y="1930.5">80</text></g>
<g text-anchor="middle"><text x="1364" y="2085">0</text><text x="1417.3" y="2085">20</text><text x="1470.5" y="2085">40</text><text x="1523.8" y="2085">60</text><text x="1577" y="2085">80</text></g>
<text x="1471" y="2107" font-size="14" font-weight="bold" text-anchor="middle">CBA (µ g TTX eq/g)</text>
<text transform="translate(1339,1998) rotate(-90)" font-size="14" font-weight="bold" text-anchor="middle" letter-spacing="1">MBA (µ g TTX eq/g)</text>
<path d="M1367.2,2069L1561,1974.7" stroke="#f5a030" stroke-width="1.3"/>
<g fill="#000"><circle cx="1366.8" cy="2068.1" r="3.2"/><circle cx="1370.7" cy="2066.7" r="3.2"/><circle cx="1367.3" cy="2068.1" r="3.2"/><circle cx="1413.3" cy="2051.4" r="3.2"/><circle cx="1397" cy="2061.3" r="3.2"/><circle cx="1374.1" cy="2064.3" r="3.2"/><circle cx="1561.7" cy="1976.3" r="3.2"/><circle cx="1530" cy="1972.8" r="3.2"/><circle cx="1520.1" cy="2015" r="3.2"/><circle cx="1463.1" cy="2010.5" r="3.2"/></g>
<text x="1488" y="2040" font-size="11">y=0.730x-0.879</text>
<text x="1488" y="2058" font-size="11">R<tspan font-size="7" dy="-4">2</tspan><tspan dy="4">=0.935</tspan></text>
</g>
</svg>
</body></html>
